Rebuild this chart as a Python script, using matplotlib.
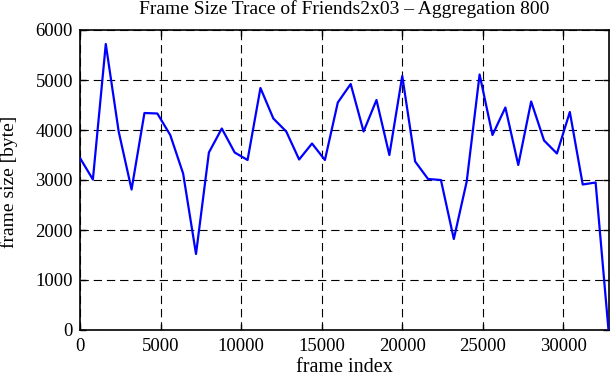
import numpy as np
import matplotlib
matplotlib.use('Agg')
import matplotlib.pyplot as plt

plt.rcParams['font.family'] = 'Liberation Serif'
plt.rcParams['font.size'] = 13
plt.rcParams['lines.scale_dashes'] = False

aggregation = 800
frame_size = [3440, 3010, 5720, 3970, 2810, 4340, 4330, 3900, 3130, 1520,
              3550, 4030, 3550, 3400, 4840, 4230, 3970, 3410, 3730, 3400,
              4550, 4920, 3970, 4600, 3500, 5080, 3370, 3020, 3000, 1820,
              2970, 5110, 3900, 4450, 3300, 4570, 3790, 3530, 4360, 2910,
              2950, 0]
frame_index = np.arange(len(frame_size)) * aggregation

xticks = [0, 5000, 10000, 15000, 20000, 25000, 30000]
yticks = [0, 1000, 2000, 3000, 4000, 5000, 6000]

fig = plt.figure(figsize=(6.11, 3.80), dpi=100)
ax = fig.add_axes([80/611, 1 - 330/380, 528.5/611, 300/380])

ax.plot(frame_index, frame_size, color='#0000ff', lw=1.6, zorder=3)

ax.set_xlim(0, frame_index[-1])
ax.set_ylim(0, 6000)
ax.set_xticks(xticks)
ax.set_yticks(yticks)
ax.grid(True, color='black', lw=0.8, ls=(0, (6, 3.5)))

ax.tick_params(direction='in', length=4, width=1, top=True, right=True, labelsize=13.5)
ax.tick_params(axis='x', pad=6)
ax.tick_params(axis='y', pad=5)
for s in ax.spines.values():
    s.set_linewidth(1.2)

xc = 0.5 * (80 + 608.5) / 611
fig.text(xc, 1 - 0.5/380, 'Frame Size Trace of Friends2x03 \u2013 Aggregation 800',
         ha='center', va='top', fontsize=14)
fig.text(xc, 1 - 368/380, 'frame index', ha='center', va='center', fontsize=14.5)
fig.text(9/611, 1 - 182/380, 'frame size [byte]', ha='center', va='center', rotation=90, fontsize=14)

fig.savefig('out.png', dpi=100)
